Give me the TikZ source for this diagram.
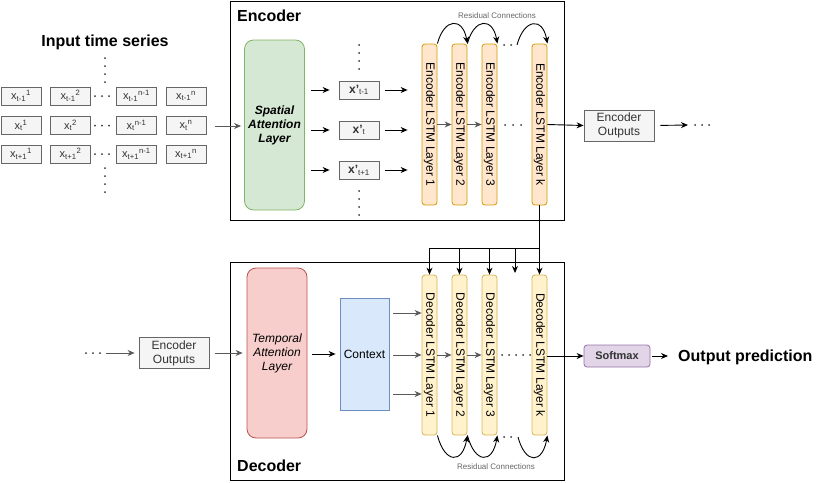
\documentclass[tikz,border=0pt]{standalone}
\usepackage{fontspec}
\setmainfont{Liberation Sans}
\usetikzlibrary{arrows.meta}
\definecolor{boxfill}{HTML}{F5F5F5}
\definecolor{boxline}{HTML}{666666}
\definecolor{boxtext}{HTML}{333333}
\definecolor{spfill}{HTML}{D5E8D4}
\definecolor{spline}{HTML}{82B366}
\definecolor{tpfill}{HTML}{F8CECC}
\definecolor{tpline}{HTML}{B85450}
\definecolor{cxfill}{HTML}{DAE8FC}
\definecolor{cxline}{HTML}{6C8EBF}
\definecolor{enfill}{HTML}{FFE6CC}
\definecolor{enline}{HTML}{D79B00}
\definecolor{defill}{HTML}{FFF2CC}
\definecolor{deline}{HTML}{D6B656}
\definecolor{smfill}{HTML}{E1D5E7}
\definecolor{smline}{HTML}{9673A6}
\tikzset{
  px/.style={x=1pt, y=1pt},
  frame/.style={black, line width=1pt},
  arr/.style={black, line width=0.9pt, -{Stealth[length=7pt, width=6pt]}},
  garr/.style={arr, draw=black!65},
  link/.style={black, line width=0.9pt},
  dotc/.style={black!80},
  title/.style={font=\fontsize{16}{18}\selectfont\bfseries, inner sep=2pt},
  reslbl/.style={font=\fontsize{8}{9}\selectfont, text=boxline},
  gbox/.style={draw=boxline, fill=boxfill, text=boxtext, line width=0.8pt, inner sep=0pt,
    minimum width=40, minimum height=18, font=\fontsize{11}{12}\selectfont},
  obox/.style={gbox, minimum width=70, minimum height=31, align=center, font=\fontsize{12}{14}\selectfont},
  attn/.style={rounded corners=9pt, line width=0.8pt, minimum width=60, minimum height=170,
    align=center, inner sep=0pt, font=\fontsize{12}{14}\selectfont},
  % LSTM layers are drawn rotated, text reads top to bottom
  enlayer/.style={draw=enline, fill=enfill, rounded corners=3pt, line width=0.8pt, rotate=-90,
    minimum width=161, minimum height=15, inner sep=0pt, font=\fontsize{12}{13}\selectfont},
  delayer/.style={enlayer, draw=deline, fill=defill, minimum width=160},
}
\begin{document}
\begin{tikzpicture}[px]
  \useasboundingbox (0,0) rectangle (821,-482);
  % encoder / decoder frames
  \draw[frame] (230,-1) rectangle (564,-220);
  \draw[frame] (230,-262) rectangle (564,-480);
  \node[title, anchor=west] (enct) at (235,-16) {Encoder};
  \node[title, anchor=west] (dect) at (235,-466) {Decoder};

  % input time series grid
  \node[title] (inp) at (105,-42) {Input time series};
  \foreach \r/\s/\y in {1/t-1/-96, 2/t/-125.5, 3/t+1/-154} {
    \foreach \c/\p/\x in {1/1/21, 2/2/70.5, 3/n-1/136.5, 4/n/186}
      \node[gbox] (g\r\c) at (\x,\y) {x\textsubscript{\s}\textsuperscript{\p}};
    \foreach \x in {95,102,109} \fill[dotc] (\x,\y) circle (1pt);
  }
  \foreach \y in {-58,-66,-74,-82,-168,-176,-184,-192} \fill[dotc] (105,\y) circle (1pt);

  % spatial attention and encoder inputs
  \node[attn, draw=spline, fill=spfill, font=\fontsize{12}{14}\selectfont\bfseries\itshape] (spat) at (274.5,-125)
    {Spatial\\Attention\\Layer};
  \coordinate (gin) at (215,-126);
  \draw[garr, shorten >=3pt] (gin) -- (spat.west |- gin);
  \node[gbox, font=\fontsize{12}{13}\selectfont] (xa) at (359,-90) {\textbf{x'}\textsubscript{t-1}};
  \node[gbox, font=\fontsize{12}{13}\selectfont] (xb) at (359,-130) {\textbf{x'}\textsubscript{t}};
  \node[gbox, font=\fontsize{12}{13}\selectfont] (xc) at (359,-170) {\textbf{x'}\textsubscript{t+1}};
  \foreach \y in {-45,-53,-61,-69,-191,-199,-207,-215} \fill[dotc] (359,\y) circle (1pt);

  % encoder LSTM stack
  \node[enlayer] (e1) at (429.5,-124.5) {Encoder LSTM Layer 1};
  \node[enlayer] (e2) at (459.5,-124.5) {Encoder LSTM Layer 2};
  \node[enlayer] (e3) at (489.5,-124.5) {Encoder LSTM Layer 3};
  \node[enlayer] (ek) at (539.5,-124.5) {Encoder LSTM Layer k};
  \foreach \n in {xa,xb,xc} {
    \draw[arr, shorten <=6pt, shorten >=9pt] (spat.east |- \n.west) -- (\n.west);
    \draw[arr, shorten <=6pt, shorten >=14pt] (\n.east) -- (e1.south |- \n.east);
  }
  \draw[garr] (e1.north) -- (e2.south);
  \draw[garr] (e2.north) -- (e3.south);
  \foreach \x in {505,513,521} \fill[dotc] (\x,-125) circle (1pt);
  % residual connections (encoder)
  \node[reslbl] (res1) at (497,-16) {Residual Connections};
  \draw[arr] (e1.north west) to[out=75, in=100, looseness=2.3] (e2.north west);
  \draw[arr] (e2.north west) to[out=75, in=100, looseness=2.3] (e3.north west);
  \foreach \x in {504,511} \fill[dotc] (\x,-45) circle (1pt);
  \coordinate (rsk) at (517,-45);
  \draw[arr] (rsk) to[out=75, in=100, looseness=2.3] (ek.north west);
  % encoder outputs
  \node[obox] (eout) at (619,-125.5) {Encoder\\Outputs};
  \draw[arr] (ek.north) -- (eout.west);
  \coordinate (eend) at (688,-125);
  \draw[arr, shorten <=6pt] (eout.east) -- (eend);
  \foreach \x in {695,702,709} \fill[dotc] (\x,-125) circle (1pt);

  % decoder LSTM stack
  \node[delayer] (d1) at (429.5,-355) {Decoder LSTM Layer 1};
  \node[delayer] (d2) at (459.5,-355) {Decoder LSTM Layer 2};
  \node[delayer] (d3) at (489.5,-355) {Decoder LSTM Layer 3};
  \node[delayer] (dk) at (539.5,-355) {Decoder LSTM Layer k};
  % encoder state to every decoder layer
  \coordinate (bus) at (ek.east |- 0,-248);
  \draw[link] (ek.east) -- (bus) -- (d1.west |- bus);
  \foreach \n in {d1,d2,d3,dk} \draw[arr] (\n.west |- bus) -- (\n.west);
  \coordinate (bgap) at (515,-273);
  \draw[arr] (bgap |- bus) -- (bgap);

  % decoder inputs
  \foreach \x in {86,93,100} \fill[dotc] (\x,-353) circle (1pt);
  \node[obox] (dout) at (174,-353) {Encoder\\Outputs};
  \coordinate (dstart) at (106,-353);
  \draw[garr, shorten >=4pt] (dstart) -- (dout.west);
  \node[attn, draw=tpline, fill=tpfill, font=\fontsize{12}{14}\selectfont\itshape] (temp) at (277,-353)
    {Temporal\\Attention\\Layer};
  \draw[garr, shorten <=6pt, shorten >=4pt] (dout.east) -- (temp.west |- dout.east);
  \node[draw=cxline, fill=cxfill, line width=0.8pt, minimum width=49, minimum height=112,
    font=\fontsize{12}{14}\selectfont] (ctx) at (364.5,-354) {Context};
  \draw[arr, shorten <=5pt, shorten >=4pt] (temp.east |- ctx.west) -- (ctx.west);
  \foreach \y in {-313,-355,-394}
    \draw[garr, shorten <=4pt] (ctx.east |- 0,\y) -- (d1.south |- 0,\y);
  \draw[garr] (d1.north) -- (d2.south);
  \draw[garr] (d2.north) -- (d3.south);
  \foreach \x in {502,509,516,523,530} \fill[dotc] (\x,-355) circle (1pt);
  % residual connections (decoder)
  \node[reslbl] (res2) at (496,-467) {Residual Connections};
  \draw[arr] (d1.north east) to[out=-75, in=-100, looseness=2.5] (d2.north east);
  \draw[arr] (d2.north east) to[out=-75, in=-100, looseness=2.5] (d3.north east);
  \foreach \x in {504,511} \fill[dotc] (\x,-437) circle (1pt);
  \coordinate (rdk) at (518,-437);
  \draw[arr] (rdk) to[out=-75, in=-100, looseness=2.5] (dk.north east);

  % output
  \node[draw=smline, fill=smfill, rounded corners=3pt, line width=0.8pt, minimum width=66, minimum height=22,
    font=\fontsize{11}{12}\selectfont\bfseries, text=boxtext] (smax) at (617,-356) {Softmax};
  \draw[arr] (dk.north |- smax.west) -- (smax.west);
  \node[title, anchor=west, inner sep=0pt] (outp) at (678,-357) {Output prediction};
  \draw[arr, shorten <=2pt, shorten >=10pt] (smax.east) -- (outp.west |- smax.east);
\end{tikzpicture}
\end{document}
